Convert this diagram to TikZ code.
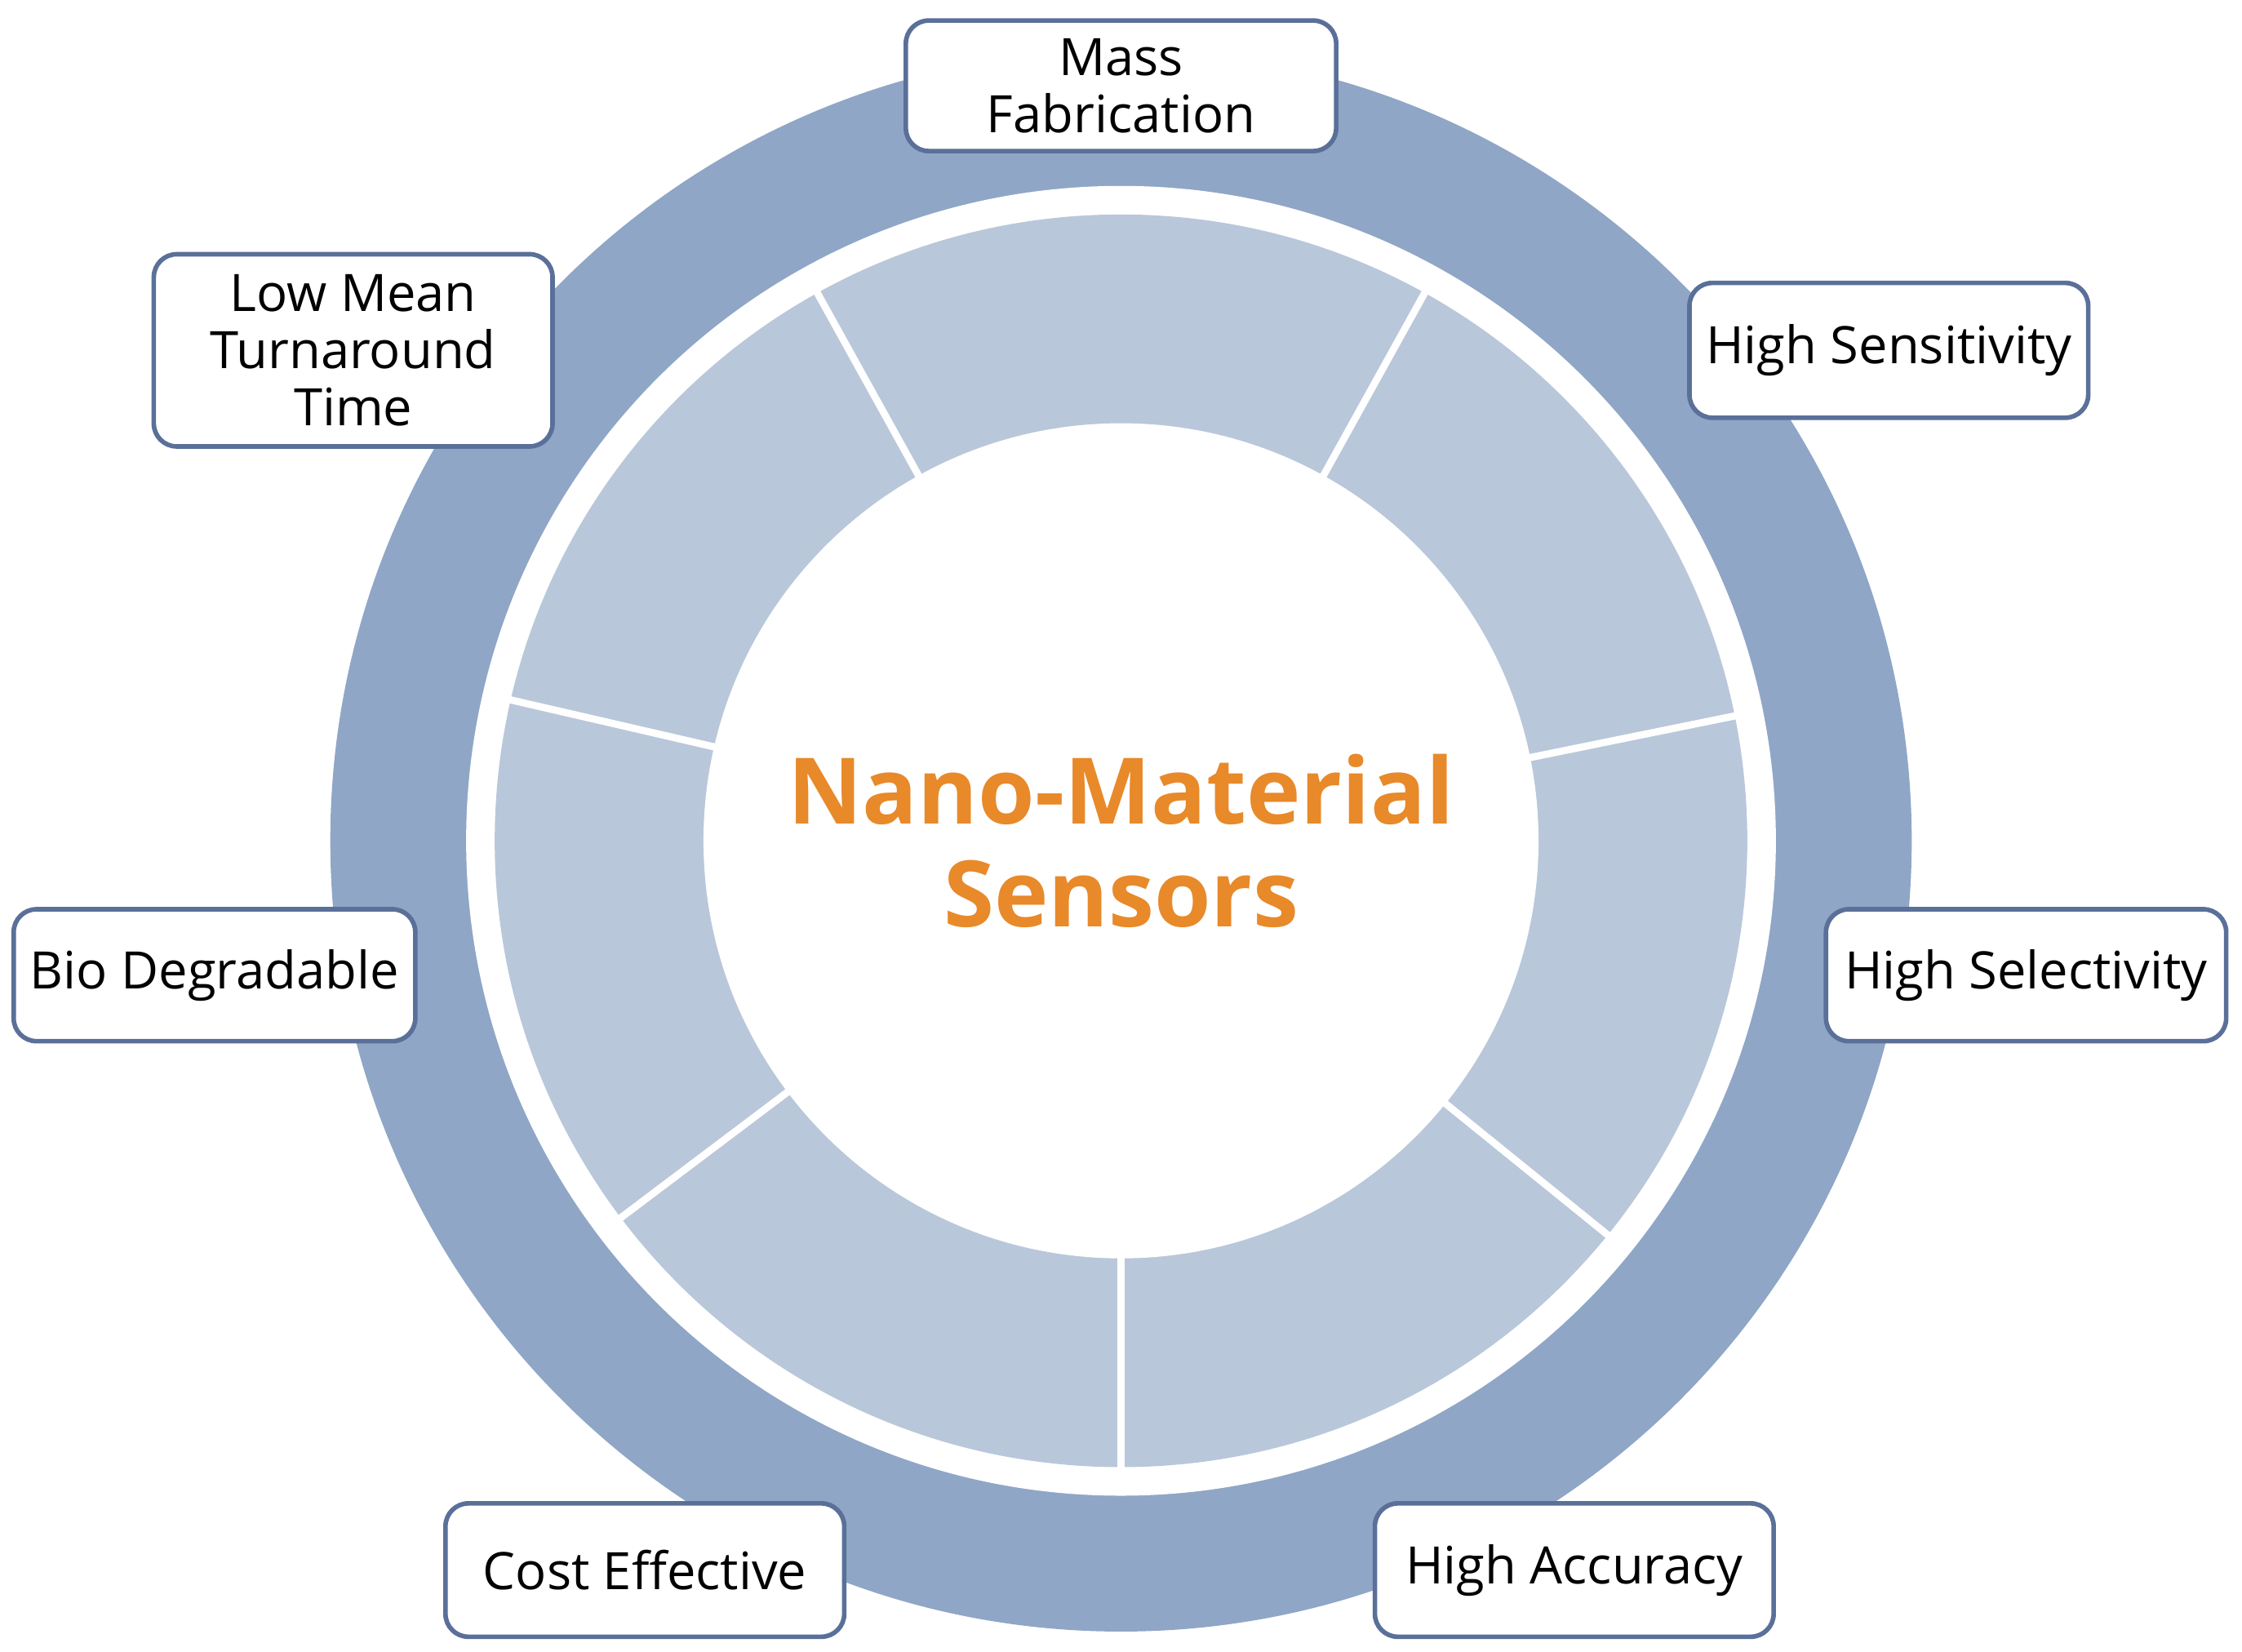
\documentclass[tikz,border=0pt]{standalone}
\usepackage{fontspec}
\setmainfont{Open Sans}
\usetikzlibrary{calc}
\definecolor{ringdark}{HTML}{8FA6C6}
\definecolor{ringlight}{HTML}{B9C7DA}
\definecolor{boxline}{HTML}{5A7099}
\definecolor{orangetxt}{HTML}{E8892A}
\begin{document}
\begin{tikzpicture}[x=0.01752cm,y=-0.01752cm,
  lbl/.style={draw=boxline,line width=1.6pt,fill=white,rounded corners=8pt,align=center,font=\fontsize{18}{20}\selectfont,inner sep=0pt}]
\useasboundingbox (0,0) rectangle (1568,1155);
\coordinate (c) at (784,588);
\fill[ringdark] (c) circle[radius=553];
\fill[white] (c) circle[radius=458];
\fill[ringlight] (c) circle[radius=438];
\fill[white] (c) circle[radius=292];
\foreach \a in {119,61,11.5,-39,-90,-143,167}
  \draw[white,line width=2.5pt] ($(c)+(\a:280 and -280)$) -- ($(c)+(\a:450 and -450)$);
\node[font=\bfseries\fontsize{32}{36}\selectfont,text=orangetxt,align=center] (t) at (c) {Nano-Material\\Sensors};
\node[lbl,minimum width=150pt,minimum height=45.5pt] (mf) at (784,60) {Mass\\Fabrication};
\node[lbl,minimum width=139pt,minimum height=67pt] (lm) at (247,245) {Low Mean\\Turnaround\\Time};
\node[lbl,minimum width=139pt,minimum height=47pt] (hs) at (1321,245) {High Sensitivity};
\node[lbl,minimum width=140pt,minimum height=46pt] (bd) at (150,682) {Bio Degradable};
\node[lbl,minimum width=139.5pt,minimum height=46pt] (hsel) at (1417,682) {High Selectivity};
\node[lbl,minimum width=139pt,minimum height=46.5pt] (ce) at (451,1098) {Cost Effective};
\node[lbl,minimum width=139pt,minimum height=46.5pt] (ha) at (1101,1098) {High Accuracy};
\end{tikzpicture}
\end{document}
